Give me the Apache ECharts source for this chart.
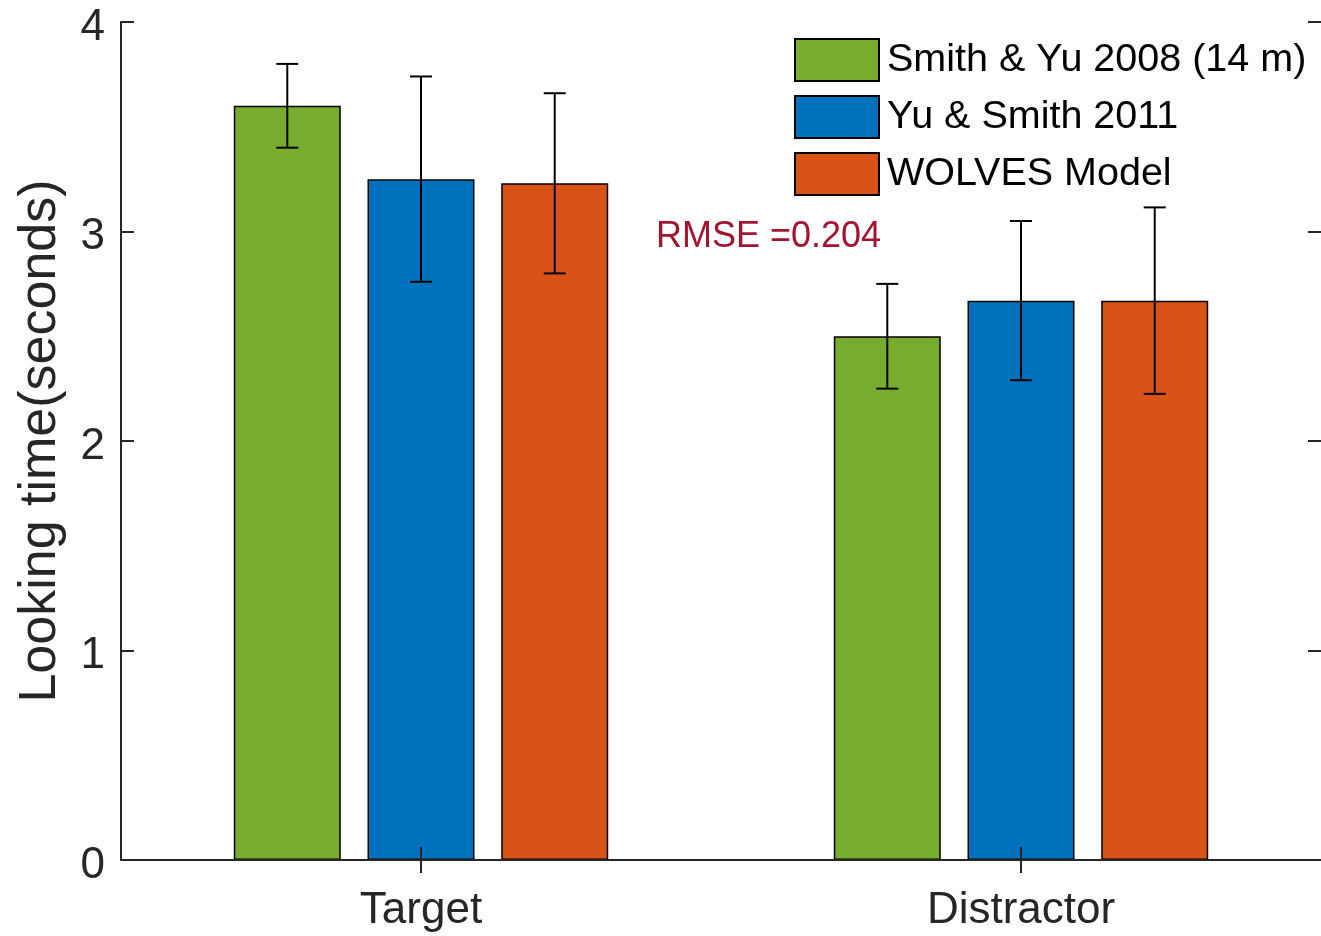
<!DOCTYPE html>
<html>
<head>
<meta charset="utf-8">
<title>Looking time: Target vs Distractor</title>
<script src="https://cdn.jsdelivr.net/npm/echarts@6/dist/echarts.min.js"></script>
<style>
  html, body { margin: 0; padding: 0; background: #fff; }
  #chart { width: 1321px; height: 936px; }
</style>
</head>
<body>
<div id="chart"></div>
<script>
// Conditions on the x axis
const categories = ['Target', 'Distractor'];

// Mean looking time (seconds) and error-bar half widths per source
const seriesNames = ['Smith & Yu 2008 (14 m)', 'Yu & Smith 2011', 'WOLVES Model'];
const smithYu2008 = [3.60, 2.50];
const smithYu2008Err = [0.20, 0.25];
const yuSmith2011 = [3.25, 2.67];
const yuSmith2011Err = [0.49, 0.38];
const wolvesModel = [3.23, 2.67];
const wolvesModelErr = [0.43, 0.445];

const yTicks = { min: 0, max: 4, interval: 1 };
const rmseLabel = 'RMSE =0.204';

const colors = ['#77AC30', '#0072BD', '#D95319'];
const means = [smithYu2008, yuSmith2011, wolvesModel];
const errs = [smithYu2008Err, yuSmith2011Err, wolvesModelErr];

const FONT = '"Liberation Sans", Arial, Helvetica, sans-serif';
const AXIS_COLOR = '#262626';
const BAR_FRAC = 0.1783;   // bar width as a fraction of the category band
const BAR_GAP = 0.25;      // gap between bars as a fraction of bar width

const chart = echarts.init(document.getElementById('chart'), null, { renderer: 'canvas' });

const barSeries = means.map((vals, i) => ({
  name: seriesNames[i],
  type: 'bar',
  data: vals,
  barWidth: (BAR_FRAC * 100) + '%',
  barGap: (BAR_GAP * 100) + '%',
  z: 2,
  itemStyle: { color: colors[i], borderColor: '#000', borderWidth: 1.5 }
}));

// Error bars drawn as vertical whiskers with caps, offset to sit on each bar
const errorSeries = means.map((vals, i) => ({
  type: 'custom',
  name: seriesNames[i] + ' error',
  z: 5,
  silent: true,
  data: vals.map((v, k) => [k, v - errs[i][k], v + errs[i][k]]),
  encode: { x: 0, y: [1, 2] },
  renderItem: function (params, api) {
    const band = api.size([1, 0])[0];
    const offset = (i - 1) * band * BAR_FRAC * (1 + BAR_GAP);
    const lo = api.coord([api.value(0), api.value(1)]);
    const hi = api.coord([api.value(0), api.value(2)]);
    const x = lo[0] + offset;
    const cap = 11;
    const style = { stroke: '#000', lineWidth: 2 };
    return {
      type: 'group',
      children: [
        { type: 'line', shape: { x1: x, y1: lo[1], x2: x, y2: hi[1] }, style },
        { type: 'line', shape: { x1: x - cap, y1: lo[1], x2: x + cap, y2: lo[1] }, style },
        { type: 'line', shape: { x1: x - cap, y1: hi[1], x2: x + cap, y2: hi[1] }, style }
      ]
    };
  }
}));

const option = {
  backgroundColor: '#fff',
  animation: false,
  textStyle: { fontFamily: FONT },
  grid: { left: 121, right: 0, top: 22, bottom: 76, containLabel: false },
  legend: {
    data: seriesNames,
    left: 785,
    top: 29,
    orient: 'vertical',
    padding: [9, 4, 9, 9],
    backgroundColor: '#fff',
    icon: 'rect',
    itemWidth: 84,
    itemHeight: 42,
    itemGap: 13,
    z: 20,
    textStyle: { fontFamily: FONT, fontSize: 39.5, color: '#000', padding: [0, 0, 0, 3], lineHeight: 42 }
  },
  xAxis: [
    {
      type: 'category',
      data: categories,
      position: 'bottom',
      z: 10,
      axisLine: { show: true, lineStyle: { color: AXIS_COLOR, width: 2 } },
      axisTick: { show: true, inside: true, length: 13, alignWithLabel: true, lineStyle: { color: AXIS_COLOR, width: 2 } },
      axisLabel: { fontFamily: FONT, fontSize: 44, color: AXIS_COLOR, margin: 29 },
      splitLine: { show: false }
    },
    {
      type: 'category',
      data: categories,
      position: 'top',
      z: 10,
      axisLine: { show: true, lineStyle: { color: AXIS_COLOR, width: 2 } },
      axisTick: { show: true, inside: true, length: 13, alignWithLabel: true, lineStyle: { color: AXIS_COLOR, width: 2 } },
      axisLabel: { show: false },
      splitLine: { show: false }
    }
  ],
  yAxis: [
    {
      type: 'value',
      min: yTicks.min,
      max: yTicks.max,
      interval: yTicks.interval,
      position: 'left',
      z: 10,
      name: 'Looking time(seconds)',
      nameLocation: 'middle',
      nameRotate: 90,
      nameGap: 54,
      nameTextStyle: { fontFamily: FONT, fontSize: 52, color: AXIS_COLOR },
      axisLine: { show: true, lineStyle: { color: AXIS_COLOR, width: 2 } },
      axisTick: { show: true, inside: true, length: 13, lineStyle: { color: AXIS_COLOR, width: 2 } },
      axisLabel: {
        fontFamily: FONT, fontSize: 44, color: AXIS_COLOR, margin: 16,
        formatter: '{t|{value}}',
        rich: { t: { fontFamily: FONT, fontSize: 44, color: AXIS_COLOR, padding: [11, 0, 0, 0] } }
      },
      splitLine: { show: false }
    },
    {
      type: 'value',
      min: yTicks.min,
      max: yTicks.max,
      interval: yTicks.interval,
      position: 'right',
      z: 10,
      axisLine: { show: false },
      axisTick: { show: true, inside: true, length: 13, lineStyle: { color: AXIS_COLOR, width: 2 } },
      axisLabel: { show: false },
      splitLine: { show: false }
    }
  ],
  graphic: [
    {
      type: 'text',
      left: 656,
      top: 219,
      z: 30,
      style: { text: rmseLabel, fontFamily: FONT, fontSize: 36, fill: '#A2142F' }
    }
  ],
  series: barSeries.concat(errorSeries)
};

chart.setOption(option);
</script>
</body>
</html>
